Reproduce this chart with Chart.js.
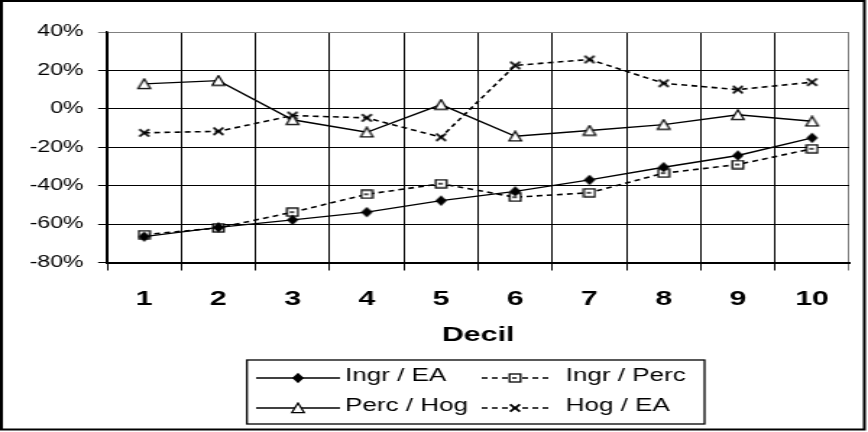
<!DOCTYPE html>
<html>
<head>
<meta charset="utf-8">
<script src="https://cdn.jsdelivr.net/npm/chart.js@4/dist/chart.umd.min.js"></script>
<style>
  html, body { margin: 0; padding: 0; background: #fff; overflow: hidden; }
  #wrap { width: 600px; height: 432px; transform: scaleX(1.44667); transform-origin: 0 0; }
</style>
</head>
<body>
<div id="wrap"><canvas id="chart" width="600" height="432"></canvas></div>
<script>
// Decile labels and series values (percent)
const deciles = ['1', '2', '3', '4', '5', '6', '7', '8', '9', '10'];
const ingrEA = [-66.5, -61.7, -57.8, -53.8, -47.8, -43, -37, -30.4, -24.3, -15.1];
const ingrPerc = [-65.5, -62, -53.8, -44.5, -39, -46, -43.7, -33.5, -29, -20.8];
const percHog = [13, 14.7, -5.7, -12.2, 2.2, -14.3, -11.3, -8.2, -3.1, -6.5];
const hogEA = [-12.5, -11.7, -3.5, -4.7, -14.8, 22.6, 25.7, 13.3, 10, 13.9];
const yTicks = [-80, -60, -40, -20, 0, 20, 40];

// the original picture is stretched sideways, so the page is drawn narrow and scaled
const FONT = "'Liberation Sans', Arial, sans-serif";

// small marker images, narrower than tall to cancel the horizontal stretch
function marker(w, h, draw) {
  const c = document.createElement('canvas');
  c.width = w; c.height = h;
  const g = c.getContext('2d');
  draw(g, w / 2, h / 2);
  return c;
}
const diamond = marker(10, 12, (g, cx, cy) => {
  g.fillStyle = '#000';
  g.beginPath();
  g.moveTo(cx, cy - 5.3); g.lineTo(cx + 4, cy); g.lineTo(cx, cy + 5.3); g.lineTo(cx - 4, cy);
  g.closePath(); g.fill();
});
const square = marker(10, 10, (g, cx, cy) => {
  g.fillStyle = '#fff'; g.strokeStyle = '#000'; g.lineWidth = 1.3;
  g.fillRect(cx - 3.8, cy - 4, 7.6, 8);
  g.strokeRect(cx - 3.8, cy - 4, 7.6, 8);
  g.lineWidth = 1.4;
  g.beginPath(); g.moveTo(cx - 2, cy); g.lineTo(cx + 1.2, cy); g.stroke();
});
const triangle = marker(12, 12, (g, cx, cy) => {
  g.fillStyle = '#fff'; g.strokeStyle = '#000'; g.lineWidth = 1.2;
  g.beginPath();
  g.moveTo(cx, cy - 5); g.lineTo(cx + 4.3, cy + 4.7); g.lineTo(cx - 4.3, cy + 4.7);
  g.closePath(); g.fill(); g.stroke();
});
const cross = marker(10, 10, (g, cx, cy) => {
  g.strokeStyle = '#000'; g.lineWidth = 1.7;
  g.beginPath();
  g.moveTo(cx - 3.4, cy - 3.6); g.lineTo(cx + 3.4, cy + 3.6);
  g.moveTo(cx + 3.4, cy - 3.6); g.lineTo(cx - 3.4, cy + 3.6);
  g.stroke();
});

const DASH = [4, 3];

// legend slots: [dataset index, line start, marker, line end, text x, row y]
const legendSlots = [
  [0, 177, 206, 235, 238.5, 378],
  [1, 333, 356, 379, 391, 378],
  [2, 177, 206, 235, 238.5, 408],
  [3, 333, 356, 379, 391, 408]
];

const frameAndLegend = {
  id: 'frameAndLegend',
  afterDraw(chart) {
    const ctx = chart.ctx;
    ctx.save();
    ctx.strokeStyle = '#000';
    ctx.lineWidth = 2;
    ctx.strokeRect(1, 1, 596.5, 428.5);

    ctx.lineWidth = 1.3;
    ctx.strokeRect(170.7, 360, 316.3, 64);

    ctx.font = '18px ' + FONT;
    ctx.fillStyle = '#000';
    ctx.textBaseline = 'middle';
    ctx.textAlign = 'left';
    legendSlots.forEach(([i, x1, xm, x2, tx, y]) => {
      const ds = chart.data.datasets[i];
      ctx.lineWidth = ds.borderWidth;
      ctx.setLineDash(ds.borderDash || []);
      ctx.beginPath(); ctx.moveTo(x1, y); ctx.lineTo(x2, y); ctx.stroke();
      ctx.setLineDash([]);
      const img = ds.pointStyle;
      ctx.drawImage(img, xm - img.width / 2, y - img.height / 2);
      ctx.fillText(ds.label, tx, y - 1.5);
    });
    ctx.restore();
  }
};

function series(label, data, style, dashed) {
  return {
    label: label,
    data: data,
    borderColor: '#000',
    backgroundColor: '#000',
    borderWidth: dashed ? 1.6 : 1.4,
    borderDash: dashed ? DASH : [],
    pointStyle: style,
    pointRadius: 5,
    pointHoverRadius: 5,
    tension: 0
  };
}

new Chart(document.getElementById('chart'), {
  type: 'line',
  data: {
    labels: deciles,
    datasets: [
      series('Ingr / EA', ingrEA, diamond, false),
      series('Ingr / Perc', ingrPerc, square, true),
      series('Perc / Hog', percHog, triangle, false),
      series('Hog / EA', hogEA, cross, true)
    ]
  },
  options: {
    responsive: false,
    devicePixelRatio: 1,
    animation: false,
    events: [],
    layout: { padding: { left: 0, top: 32, right: 13, bottom: 84 } },
    plugins: { legend: { display: false }, tooltip: { enabled: false } },
    scales: {
      x: {
        offset: true,
        grid: {
          offset: true,
          color: ctx => (ctx.type === 'scale' ? '#808080' : '#000'),
          lineWidth: 1,
          tickLength: 8
        },
        border: { color: '#000', width: 2 },
        ticks: { color: '#000', padding: 16, font: { family: FONT, size: 21, weight: 'bold' } },
        title: {
          display: true,
          text: 'Decil',
          color: '#000',
          padding: 0,
          font: { family: FONT, size: 21, weight: 'bold' }
        },
        afterFit: s => { s.height = 85.5; }
      },
      y: {
        min: -80,
        max: 40,
        afterBuildTicks: s => { s.ticks = yTicks.map(v => ({ value: v })); },
        grid: {
          color: ctx => (ctx.tick && ctx.tick.value === 40 ? '#808080' : '#000'),
          lineWidth: 1,
          tickLength: 6.2
        },
        border: { color: '#000', width: 1.5 },
        ticks: {
          color: '#000',
          padding: 10,
          font: { family: FONT, size: 16 },
          callback: v => v + '%'
        },
        afterFit: s => { s.width = 74; }
      }
    }
  },
  plugins: [frameAndLegend]
});
</script>
</body>
</html>
